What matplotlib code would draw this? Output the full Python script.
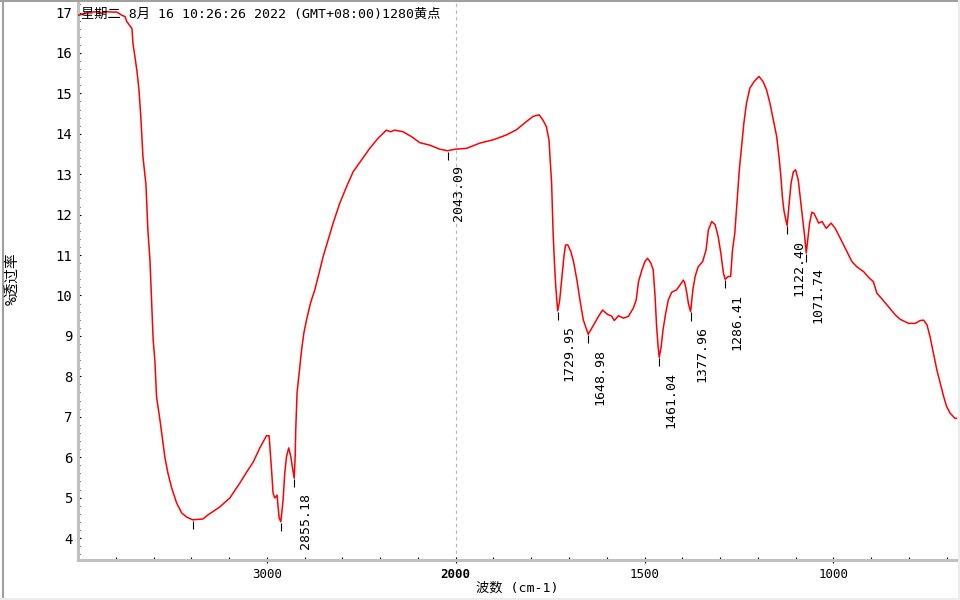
import numpy as np
import matplotlib
matplotlib.use('Agg')
import matplotlib.pyplot as plt
from matplotlib.lines import Line2D
from matplotlib.ticker import FixedLocator, MultipleLocator

plt.rcParams['font.family'] = ['DejaVu Sans Mono', 'Noto Sans CJK SC']

# spectrum (wavenumber cm-1, %T)
wavenumber = [
    4000, 3989, 3952, 3899, 3873, 3847, 3815, 3794, 3767, 3751, 3742, 3714, 3709,
    3688, 3677, 3667, 3656, 3640, 3630, 3619, 3610, 3602, 3593, 3584, 3566, 3557,
    3540, 3524, 3504, 3478, 3451, 3425, 3393, 3339, 3312, 3249, 3196, 3143, 3107,
    3072, 3037, 3002, 2988, 2975, 2967, 2958, 2946, 2935, 2926, 2914, 2905, 2896,
    2884, 2873, 2864, 2855.18, 2850, 2847, 2840, 2825, 2816, 2804, 2790, 2769, 2746,
    2723, 2702, 2676, 2649, 2614, 2578, 2543, 2499, 2455, 2411, 2367, 2345, 2323,
    2279, 2234, 2190, 2138, 2085, 2043.09, 2000,
    1971, 1936, 1901, 1866, 1839, 1813, 1795, 1779, 1769, 1760, 1753, 1746, 1742,
    1738, 1735, 1731, 1729.95, 1725, 1720, 1717, 1713, 1709, 1703, 1695, 1688, 1679,
    1671, 1662, 1653, 1648.98, 1635, 1622, 1611, 1598, 1587, 1580, 1569, 1556, 1543,
    1530, 1522, 1516, 1507, 1499, 1492, 1483, 1477, 1472, 1468, 1464, 1461.04, 1456,
    1451, 1444, 1437, 1428, 1415, 1406, 1397, 1393, 1388, 1384, 1377.96, 1372, 1366,
    1358, 1346, 1337, 1331, 1322, 1313, 1305, 1298, 1291, 1286.41, 1278, 1272, 1267,
    1261, 1256, 1249, 1243, 1237, 1230, 1221, 1210, 1197, 1186, 1177, 1168, 1159,
    1150, 1143, 1139, 1135, 1131, 1126, 1122.40, 1117, 1112, 1106, 1100, 1093, 1087,
    1081, 1076, 1071.74, 1067, 1063, 1057, 1051, 1039, 1030, 1019, 1006, 995, 982,
    964, 951, 938, 920, 907, 894, 885, 871, 854, 836, 823, 801, 783, 770, 761, 752,
    744, 735, 726, 717, 708, 700, 691, 678, 674,
]
transmittance = [
    16.93, 16.94, 17.00, 17.02, 16.98, 17.02, 17.01, 17.01, 16.93, 16.90, 16.78, 16.60, 16.24,
    15.56, 15.08, 14.39, 13.43, 12.74, 11.62, 10.88, 9.80, 8.90, 8.40, 7.49, 6.92, 6.60,
    6.00, 5.61, 5.24, 4.87, 4.62, 4.52, 4.45, 4.47, 4.57, 4.77, 4.99, 5.36, 5.63,
    5.88, 6.23, 6.53, 6.53, 5.68, 5.11, 4.99, 5.06, 4.50, 4.40, 4.94, 5.61, 6.01,
    6.23, 6.01, 5.73, 5.48, 6.01, 6.67, 7.59, 8.24, 8.65, 9.07, 9.39, 9.81, 10.14,
    10.56, 10.96, 11.37, 11.79, 12.28, 12.69, 13.06, 13.35, 13.64, 13.89, 14.09, 14.05, 14.09,
    14.05, 13.93, 13.78, 13.72, 13.62, 13.58, 13.62,
    13.64, 13.77, 13.85, 13.97, 14.10, 14.30, 14.43, 14.47, 14.34, 14.18, 13.85, 12.78, 11.54,
    10.71, 10.22, 9.72, 9.62, 9.85, 10.34, 10.63, 11.00, 11.25, 11.25, 11.08, 10.84, 10.38,
    9.89, 9.39, 9.15, 9.04, 9.27, 9.48, 9.64, 9.53, 9.49, 9.38, 9.50, 9.44, 9.48,
    9.68, 9.89, 10.34, 10.63, 10.84, 10.92, 10.80, 10.63, 9.97, 9.23, 8.73, 8.47, 8.73,
    9.15, 9.56, 9.89, 10.08, 10.14, 10.26, 10.38, 10.30, 10.06, 9.81, 9.60, 10.14, 10.47,
    10.71, 10.84, 11.13, 11.62, 11.83, 11.75, 11.46, 11.05, 10.55, 10.40, 10.47, 10.47, 11.13,
    11.54, 12.20, 13.11, 13.69, 14.26, 14.76, 15.13, 15.29, 15.42, 15.29, 15.09, 14.76, 14.34,
    13.93, 13.35, 12.94, 12.44, 12.11, 11.87, 11.73, 12.28, 12.78, 13.06, 13.11, 12.86, 12.36,
    11.87, 11.46, 11.05, 11.46, 11.79, 12.06, 12.03, 11.79, 11.83, 11.66, 11.79, 11.66, 11.42,
    11.08, 10.84, 10.71, 10.59, 10.45, 10.34, 10.06, 9.91, 9.72, 9.52, 9.41, 9.31, 9.31, 9.38, 9.39, 9.27,
    8.98, 8.57, 8.16, 7.83, 7.50, 7.25, 7.09, 6.96, 6.96,
]

# labelled peaks
peak_wn = [2855.18, 2043.09, 1729.95, 1648.98, 1461.04, 1377.96, 1286.41, 1122.40, 1071.74]
peak_tr = [5.48, 13.58, 9.62, 9.04, 8.47, 9.60, 10.40, 11.73, 11.05]
# marked but unlabelled peaks
mark_wn = [3393, 2926]
mark_tr = [4.45, 4.40]

x_ticks = [3000, 2000, 1500, 1000]
x_ticklabels = ['3000', '2000', '1500', '1000']
x_minor = [3800, 3600, 3400, 3200, 2800, 2600, 2400, 2200,
           1900, 1800, 1700, 1600, 1400, 1300, 1200, 1100, 900, 800, 700]
y_ticks = list(range(4, 18))

header = "星期二 8月 16 10:26:26 2022 (GMT+08:00)1280黄点"


# below 2000 cm-1 the axis is stretched 2x
def fwd(w):
    w = np.asarray(w, dtype=float)
    return np.where(w >= 2000, w, 2 * w - 2000)


def inv(u):
    u = np.asarray(u, dtype=float)
    return np.where(u >= 2000, u, (u + 2000) / 2)


fig = plt.figure(figsize=(9.6, 6), dpi=100)
ax = fig.add_axes([78 / 960, 40 / 600, 880 / 960, 558 / 600])
ax.set_xscale('function', functions=(fwd, inv))

ax.plot(wavenumber, transmittance, color='#ff0000', lw=1.1, zorder=3)
ax.axvline(2000, color='#b4b4b4', lw=0.8, ls=(0, (3, 3)), zorder=1)

ax.vlines(peak_wn + mark_wn, np.array(peak_tr + mark_tr) - 0.22,
          np.array(peak_tr + mark_tr) - 0.02, color='black', lw=0.8, zorder=4)
for w, t in zip(peak_wn, peak_tr):
    ax.annotate(f"{w:.2f}", xy=(w, t - 0.22), xytext=(3.5, -4), textcoords='offset points',
                rotation=90, ha='left', va='top', fontsize=9.5, color='black')

ax.set_xlim(4000, 670)
ax.set_ylim(3.456, 17.26)

ax.xaxis.set_major_locator(FixedLocator(x_ticks))
ax.xaxis.set_minor_locator(FixedLocator(x_minor))
ax.set_xticklabels(x_ticklabels)
ax.get_xticklabels()[1].set_fontweight('bold')
ax.yaxis.set_major_locator(FixedLocator(y_ticks))
ax.yaxis.set_minor_locator(MultipleLocator(0.2))
ax.set_yticklabels([str(v) for v in y_ticks])

ax.tick_params(axis='x', which='major', direction='inout', length=5, width=0.8, pad=3, labelsize=9)
ax.tick_params(axis='x', which='minor', direction='in', length=2.5, width=0.8)
ax.tick_params(axis='y', which='major', direction='in', length=2.5, width=0.8, pad=4, labelsize=10)
ax.tick_params(axis='y', which='minor', direction='in', length=1.5, width=0.8)

for side in ['top', 'right']:
    ax.spines[side].set_visible(False)
for side in ['left', 'bottom']:
    ax.spines[side].set_color('#c0c0c0')
    ax.spines[side].set_linewidth(2.2)

ax.text(0.003, 1 - 12 / 558, header, transform=ax.transAxes, ha='left', va='center',
        fontsize=9.5, color='black', zorder=5)
fig.text(517 / 960, 1 - 588 / 600, "波数 (cm-1)", ha='center', va='center', fontsize=9.5)
fig.text(12 / 960, 1 - 279 / 600, "%透过率", ha='center', va='center', rotation=90, fontsize=10.5)

# window border
fig.add_artist(Line2D([2.5 / 960, 2.5 / 960], [0.003, 1], color='#a0a0a0', lw=1.5))
fig.add_artist(Line2D([0, 958 / 960], [1 - 1 / 600, 1 - 1 / 600], color='#a0a0a0', lw=1.5))
fig.add_artist(Line2D([959 / 960, 959 / 960], [0, 1], color='#ececec', lw=1.5))
fig.add_artist(Line2D([0, 1], [1 / 600, 1 / 600], color='#ececec', lw=1.5))

fig.savefig('out.png', dpi=100)
